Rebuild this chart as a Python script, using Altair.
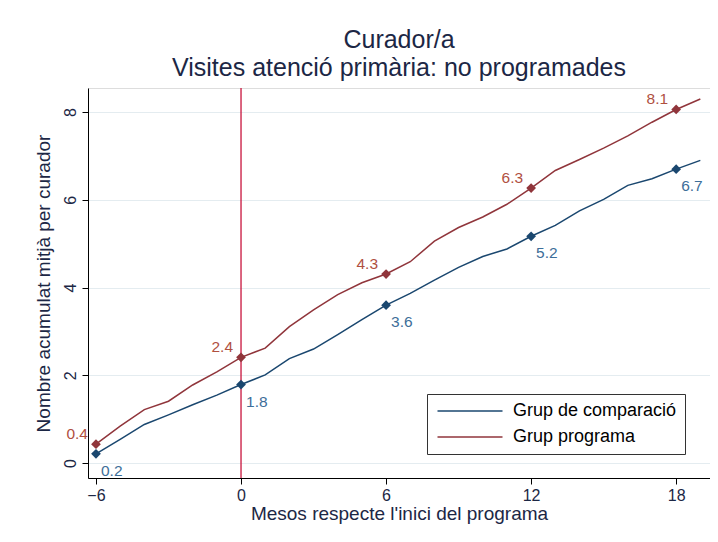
import altair as alt
import pandas as pd

months = list(range(-6, 20))
comp = [0.21, 0.54, 0.88, 1.10, 1.33, 1.55, 1.79, 2.01, 2.38, 2.60, 2.93, 3.27, 3.60,
        3.87, 4.17, 4.46, 4.71, 4.88, 5.17, 5.42, 5.75, 6.01, 6.33, 6.48, 6.70, 6.90]
prog = [0.43, 0.84, 1.22, 1.41, 1.78, 2.08, 2.41, 2.62, 3.11, 3.49, 3.84, 4.11, 4.31,
        4.59, 5.06, 5.37, 5.61, 5.90, 6.27, 6.67, 6.92, 7.18, 7.46, 7.77, 8.06, 8.30]
marker_months = [-6, 0, 6, 12, 18]
groups = ["Grup de comparació", "Grup programa"]
line_colors = ["#1a476f", "#90353b"]
label_colors = ["#3d6e99", "#b0503f"]
x_ticks = [-6, 0, 6, 12, 18]
y_ticks = [0, 2, 4, 6, 8]

rows = []
for m, c, p in zip(months, comp, prog):
    rows.append({"mes": m, "valor": c, "grup": groups[0]})
    rows.append({"mes": m, "valor": p, "grup": groups[1]})
df = pd.DataFrame(rows)
mk = df[df["mes"].isin(marker_months)].copy()

FONT = "Liberation Sans"
TXT = "#1c2745"

xs = alt.Scale(domain=[-6.33, 19.4], nice=False, zero=False)
ys = alt.Scale(domain=[-0.34, 8.55], nice=False, zero=False)
cs = alt.Scale(domain=groups, range=line_colors)

x_enc = alt.X("mes:Q", scale=xs, axis=alt.Axis(
    values=x_ticks, title="Mesos respecte l'inici del programa", grid=False,
    domainColor="#000000", tickColor="#000000", tickSize=6, labelFontSize=16,
    labelColor=TXT, labelPadding=3, titleFontSize=19, titleColor=TXT,
    titleFontWeight="normal", titlePadding=1, labelFont=FONT, titleFont=FONT))
y_enc = alt.Y("valor:Q", scale=ys, axis=alt.Axis(
    values=y_ticks, title="Nombre acumulat mitjà per curador", grid=True,
    gridColor="#e4ecf0", gridWidth=1, domainColor="#000000", tickColor="#000000",
    tickSize=6, labelFontSize=16, labelColor=TXT, labelAngle=270, labelPadding=4,
    labelAlign="center", labelBaseline="bottom",
    titleFontSize=19, titleColor=TXT, titleFontWeight="normal", titlePadding=9,
    labelFont=FONT, titleFont=FONT))

lines = alt.Chart(df).mark_line(strokeWidth=1.5).encode(
    x=x_enc, y=y_enc,
    color=alt.Color("grup:N", scale=cs, legend=alt.Legend(
        title=None, orient="none", legendX=339, legendY=306,
        symbolType="M-5,0H5", symbolSize=169, symbolStrokeWidth=1.5,
        symbolOffset=26, labelOffset=34,
        labelFontSize=18, labelFont=FONT, labelColor="#000000",
        strokeColor="#333333", fillColor="#ffffff", padding=8,
        rowPadding=8, labelLimit=300)),
    detail="grup:N")

vline = alt.Chart(pd.DataFrame({"mes": [0]})).mark_rule(
    color="#c8143c", strokeWidth=1.3).encode(x=alt.X("mes:Q", scale=xs))

points = alt.Chart(mk).mark_point(shape="diamond", filled=True, size=95, opacity=1).encode(
    x=alt.X("mes:Q", scale=xs), y=alt.Y("valor:Q", scale=ys),
    color=alt.Color("grup:N", scale=cs, legend=None))

lab_comp = alt.Chart(mk[mk["grup"] == groups[0]]).mark_text(
    align="left", baseline="middle", dx=5, dy=17, fontSize=15.5, font=FONT,
    color=label_colors[0]).encode(
    x=alt.X("mes:Q", scale=xs), y=alt.Y("valor:Q", scale=ys),
    text=alt.Text("valor:Q", format=".1f"))

lab_prog = alt.Chart(mk[mk["grup"] == groups[1]]).mark_text(
    align="right", baseline="middle", dx=-8, dy=-10, fontSize=15.5, font=FONT,
    color=label_colors[1]).encode(
    x=alt.X("mes:Q", scale=xs), y=alt.Y("valor:Q", scale=ys),
    text=alt.Text("valor:Q", format=".1f"))

chart = alt.layer(vline, lines, points, lab_comp, lab_prog).properties(
    width=622, height=390,
    title=alt.TitleParams(
        text=["Curador/a", "Visites atenció primària: no programades"],
        fontSize=25, font=FONT, color=TXT, fontWeight="normal",
        lineHeight=28, anchor="middle", offset=6),
    autosize=alt.AutoSizeParams(type="none"),
    padding={"left": 80, "top": 80, "right": 0, "bottom": 56},
).configure_view(stroke=None).configure(background="#ffffff")

chart.save("out.html", embed_options={"renderer": "svg", "actions": False})
